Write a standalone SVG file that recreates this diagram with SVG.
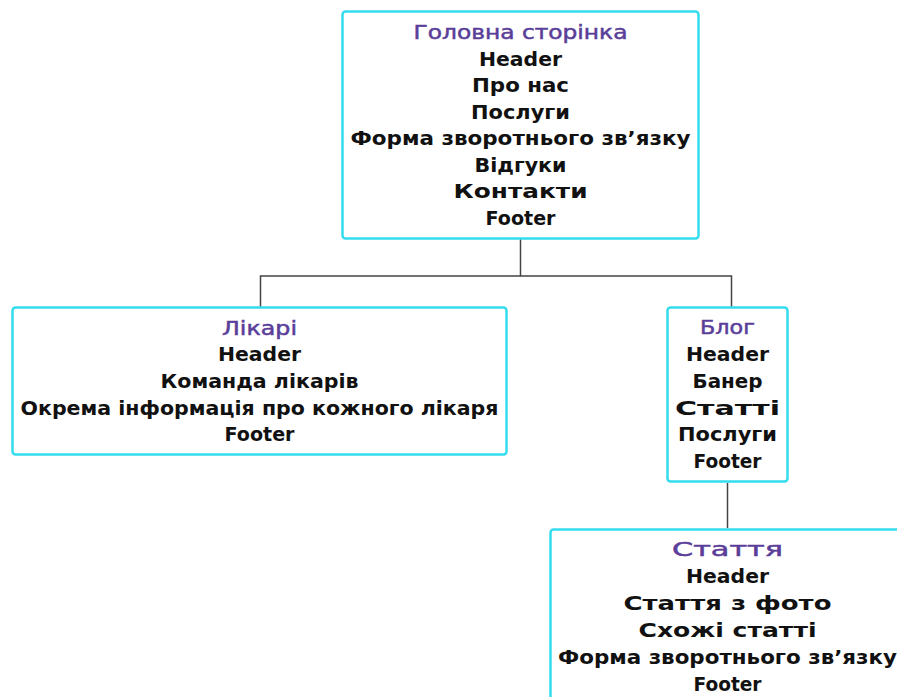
<svg xmlns="http://www.w3.org/2000/svg" width="897" height="697" viewBox="0 0 897 697">
<style>
.box{fill:#fff;stroke:#33DDEE;stroke-width:2.5}
.t{font-family:"DejaVu Sans","Liberation Sans",sans-serif;font-size:19px;text-anchor:middle;fill:#111;font-weight:bold}
.h{fill:#5A3E99;font-weight:normal;stroke:#5A3E99;stroke-width:0.5}
.c{fill:none;stroke:#444;stroke-width:1.5}
</style>
<rect width="897" height="697" fill="#fff"/>
<g id="connectors">
<path class="c" d="M520.5 239V276M260.5 307V276H731.5V307"/>
<path class="c" d="M727.5 483V528"/>
</g>
<g id="home">
<rect class="box" x="342.5" y="11.5" width="356" height="227" rx="3"/>
<text class="t h" x="520.5" y="39" textLength="214" lengthAdjust="spacingAndGlyphs">Головна сторінка</text>
<text class="t" x="520.5" y="65.5" textLength="83" lengthAdjust="spacingAndGlyphs">Header</text>
<text class="t" x="520.5" y="92" textLength="97" lengthAdjust="spacingAndGlyphs">Про нас</text>
<text class="t" x="520.5" y="118.5" textLength="99" lengthAdjust="spacingAndGlyphs">Послуги</text>
<text class="t" x="520.5" y="145" textLength="340" lengthAdjust="spacingAndGlyphs">Форма зворотнього зв’язку</text>
<text class="t" x="520.5" y="171.5" textLength="92" lengthAdjust="spacingAndGlyphs">Відгуки</text>
<text class="t" x="520.5" y="198" textLength="134" lengthAdjust="spacingAndGlyphs">Контакти</text>
<text class="t" x="520.5" y="224.5" textLength="70" lengthAdjust="spacingAndGlyphs">Footer</text>
</g>
<g id="doctors">
<rect class="box" x="12.5" y="307.5" width="494" height="147" rx="3"/>
<text class="t h" x="259.5" y="335" textLength="75" lengthAdjust="spacingAndGlyphs">Лікарі</text>
<text class="t" x="259.5" y="361" textLength="83" lengthAdjust="spacingAndGlyphs">Header</text>
<text class="t" x="259.5" y="388" textLength="198" lengthAdjust="spacingAndGlyphs">Команда лікарів</text>
<text class="t" x="259.5" y="415" textLength="478" lengthAdjust="spacingAndGlyphs">Окрема інформація про кожного лікаря</text>
<text class="t" x="259.5" y="441" textLength="70" lengthAdjust="spacingAndGlyphs">Footer</text>
</g>
<g id="blog">
<rect class="box" x="667.5" y="307.5" width="120" height="174" rx="3"/>
<text class="t h" x="727.5" y="334" textLength="55" lengthAdjust="spacingAndGlyphs">Блог</text>
<text class="t" x="727.5" y="361" textLength="83" lengthAdjust="spacingAndGlyphs">Header</text>
<text class="t" x="727.5" y="388" textLength="70" lengthAdjust="spacingAndGlyphs">Банер</text>
<text class="t" x="727.5" y="415" textLength="105" lengthAdjust="spacingAndGlyphs">Статті</text>
<text class="t" x="727.5" y="441" textLength="99" lengthAdjust="spacingAndGlyphs">Послуги</text>
<text class="t" x="727.5" y="468" textLength="68" lengthAdjust="spacingAndGlyphs">Footer</text>
</g>
<g id="article">
<rect class="box" x="550.5" y="529.5" width="356" height="180" rx="3"/>
<text class="t h" x="727.5" y="556" textLength="111" lengthAdjust="spacingAndGlyphs">Стаття</text>
<text class="t" x="727.5" y="583" textLength="83" lengthAdjust="spacingAndGlyphs">Header</text>
<text class="t" x="727.5" y="610" textLength="208" lengthAdjust="spacingAndGlyphs">Стаття з фото</text>
<text class="t" x="727.5" y="637" textLength="178" lengthAdjust="spacingAndGlyphs">Схожі статті</text>
<text class="t" x="727.5" y="664" textLength="339" lengthAdjust="spacingAndGlyphs">Форма зворотнього зв’язку</text>
<text class="t" x="727.5" y="691" textLength="68" lengthAdjust="spacingAndGlyphs">Footer</text>
</g>
</svg>
